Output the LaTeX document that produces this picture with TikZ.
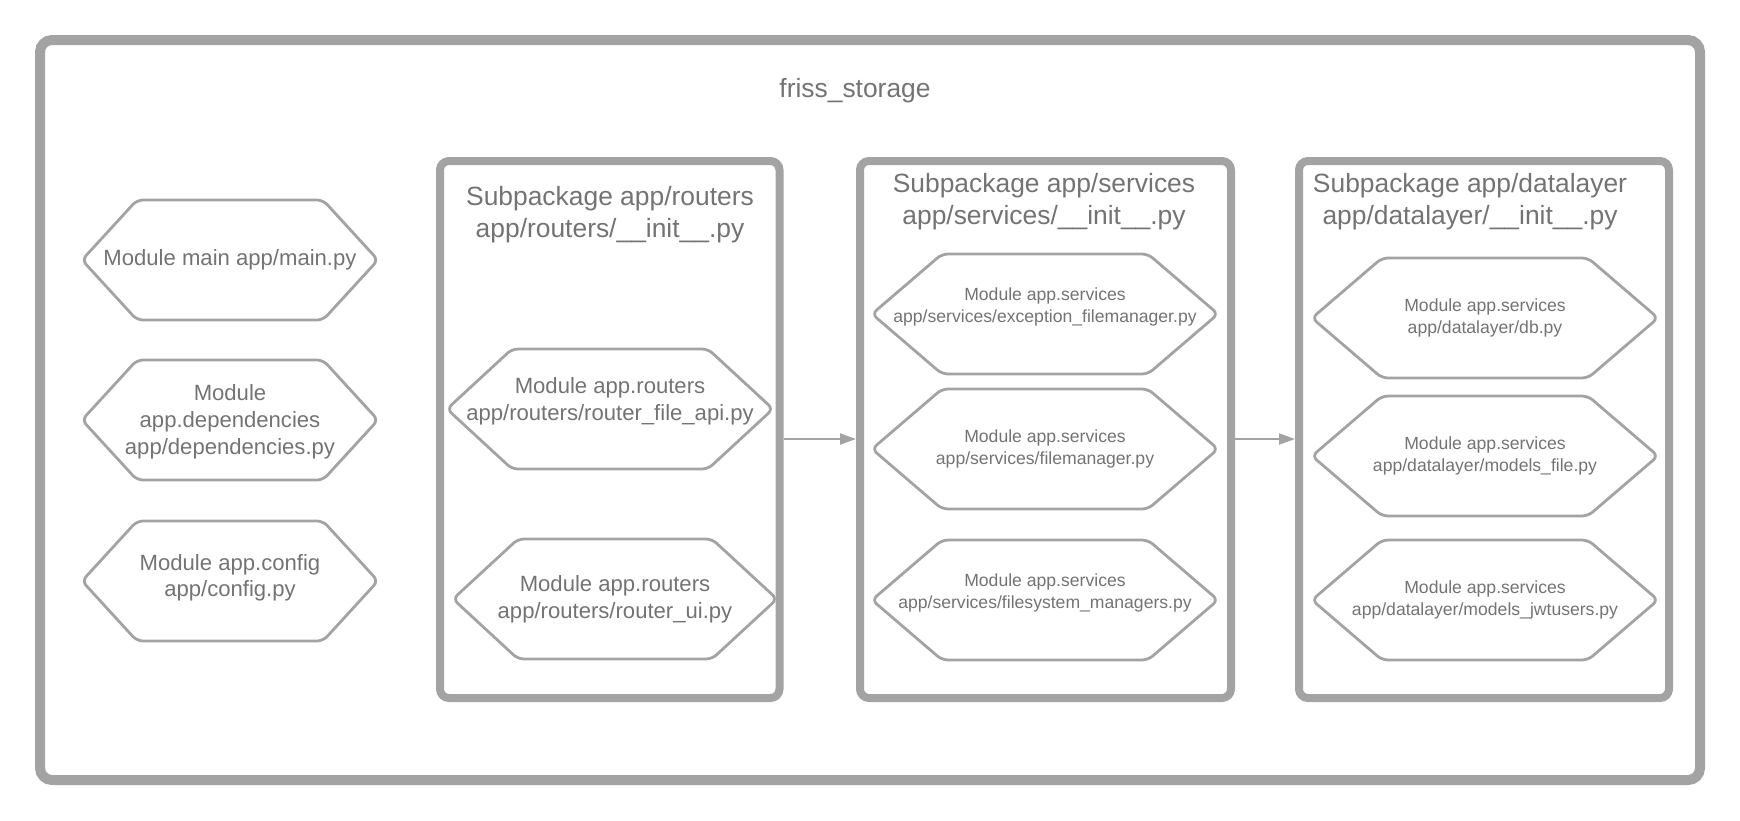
\documentclass[tikz,border=0pt]{standalone}
\usepackage{fontspec}
\setmainfont{Liberation Sans}
\usetikzlibrary{arrows.meta}

\definecolor{linegray}{HTML}{A3A3A3}
\definecolor{textgray}{HTML}{737373}

\newcommand{\titlesize}{\fontsize{26.4}{32}\selectfont}
\newcommand{\modsize}{\fontsize{22.1}{26.6}\selectfont}
\newcommand{\smallsize}{\fontsize{17.6}{22}\selectfont}

\tikzset{
  pkgbox/.style={draw=linegray, line width=8pt, rounded corners=9pt, outer sep=4pt, minimum height=537pt},
  modnode/.style={align=center, text=textgray, minimum height=120pt, inner sep=0pt, outer sep=0pt},
  textup/.style={text depth=#1},
  hexline/.style={draw=linegray, line width=2.8pt, rounded corners=6pt},
  titletext/.style={align=center, text=textgray, font=\titlesize, inner sep=0pt},
  flow/.style={draw=linegray, line width=2pt, -{Triangle[length=16pt,width=11pt]}}
}

\begin{document}
\begin{tikzpicture}[x=1pt, y=-1pt]
    \useasboundingbox (0,0) rectangle (1740,820);

    % friss_storage (outer frame)
    \draw[draw=linegray, line width=10pt, rounded corners=12pt] (40,40) rectangle (1700,780);
    \node[titletext, anchor=base] (storage) at (855,97) {friss\_storage};

    % Subpackages
    \node[pkgbox, minimum width=339.5pt] (routers) at (609.75,429.5) {};
    \node[pkgbox, minimum width=371pt] (services) at (1045.5,429.5) {};
    \node[pkgbox, minimum width=370pt] (datalayer) at (1484,429.5) {};

    \node[titletext] (routerstitle) at (610,215) {Subpackage app/routers\\app/routers/\_\_init\_\_.py};
    \node[titletext] (servicestitle) at (1044,201.5) {Subpackage app/services\\app/services/\_\_init\_\_.py};
    \node[titletext] (datalayertitle) at (1470,201.5) {Subpackage app/datalayer\\app/datalayer/\_\_init\_\_.py};

    % Top level modules
    \node[modnode, font=\modsize, minimum width=296pt] (main) at (230,260) {Module main app/main.py};
    \node[modnode, font=\modsize, minimum width=296pt, textup=1pt] (deps) at (230,420) {Module\\app.dependencies\\app/dependencies.py};
    \node[modnode, font=\modsize, minimum width=296pt, textup=11pt] (config) at (230,581) {Module app.config\\app/config.py};

    % Routers modules
    \node[modnode, font=\modsize, minimum width=326pt, textup=20.6pt] (api) at (610,409) {Module app.routers\\app/routers/router\_file\_api.py};
    \node[modnode, font=\modsize, minimum width=324pt] (ui) at (615,599) {Module app.routers\\app/routers/router\_ui.py};

    % Services modules
    \node[modnode, font=\smallsize, minimum width=346pt, textup=18pt] (exc) at (1045,314) {Module app.services\\app/services/exception\_filemanager.py};
    \node[modnode, font=\smallsize, minimum width=346pt] (fm) at (1045,449) {Module app.services\\app/services/filemanager.py};
    \node[modnode, font=\smallsize, minimum width=346pt, textup=18pt] (fsm) at (1045,600) {Module app.services\\app/services/filesystem\_managers.py};

    % Datalayer modules
    \node[modnode, font=\smallsize, minimum width=346pt] (db) at (1485,318) {Module app.services\\app/datalayer/db.py};
    \node[modnode, font=\smallsize, minimum width=346pt] (mfile) at (1485,456) {Module app.services\\app/datalayer/models\_file.py};
    \node[modnode, font=\smallsize, minimum width=346pt] (mjwt) at (1485,600) {Module app.services\\app/datalayer/models\_jwtusers.py};

    % hexagon outlines
    \foreach \n/\d in {main/55,deps/55,config/55,api/65,ui/65,exc/70,fm/70,fsm/70,db/70,mfile/70,mjwt/70}
        \draw[hexline] ([xshift=\d]\n.north west) -- ([xshift=-\d]\n.north east) -- (\n.east)
            -- ([xshift=-\d]\n.south east) -- ([xshift=\d]\n.south west) -- (\n.west) -- cycle;

    % dependencies between subpackages
    \draw[flow] ([yshift=-9.5pt]routers.east) -- ([yshift=-9.5pt]services.west);
    \draw[flow] ([yshift=-9.5pt]services.east) -- ([yshift=-9.5pt]datalayer.west);

\end{tikzpicture}
\end{document}
